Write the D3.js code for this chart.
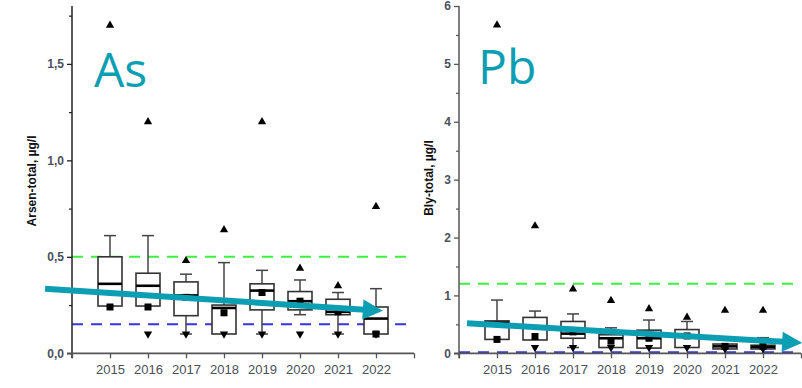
<!DOCTYPE html>
<html>
<head>
<meta charset="utf-8">
<script src="https://cdn.jsdelivr.net/npm/d3@7"></script>
<style>
  html, body { margin: 0; padding: 0; background: #fff; }
  svg { display: block; }
</style>
</head>
<body>
<svg id="chart" width="802" height="388"></svg>
<script>
// ---------- DATA ----------
const years = [2015, 2016, 2017, 2018, 2019, 2020, 2021, 2022];

// Arsen-total (µg/l)
const asWhiskerHigh = [0.61, 0.61, 0.41, 0.47, 0.43, 0.38, 0.315, 0.335];
const asQ3          = [0.50, 0.415, 0.37, 0.25, 0.36, 0.32, 0.28, 0.24];
const asMedian      = [0.36, 0.35, 0.30, 0.235, 0.325, 0.27, 0.215, 0.18];
const asQ1          = [0.245, 0.245, 0.195, 0.10, 0.225, 0.225, 0.20, 0.10];
const asWhiskerLow  = [0.245, 0.245, 0.10, 0.10, 0.10, 0.20, 0.10, 0.10];
const asMean        = [0.24, 0.24, 0.29, 0.21, 0.315, 0.27, 0.215, 0.10];
const asMax         = [1.70, 1.20, 0.48, 0.64, 1.20, 0.44, 0.35, 0.76];
const asMin         = [null, 0.10, 0.10, 0.10, 0.10, 0.10, 0.10, 0.10];
const asLimits      = [0.5, 0.15];          // green, blue
const asTrend       = [[-1.71, 0.334], [7.18, 0.22]]; // [category index, value]
const asTicks       = [0, 0.5, 1.0, 1.5];
const asMinorTicks  = [0.25, 0.75, 1.25, 1.75];

// Bly-total (µg/l)
const pbWhiskerHigh = [0.92, 0.73, 0.68, 0.44, 0.575, 0.55, 0.16, 0.27];
const pbQ3          = [0.56, 0.62, 0.55, 0.32, 0.40, 0.41, 0.16, 0.14];
const pbMedian      = [0.53, 0.45, 0.34, 0.26, 0.26, 0.30, 0.12, 0.11];
const pbQ1          = [0.24, 0.23, 0.26, 0.10, 0.09, 0.10, 0.075, 0.075];
const pbWhiskerLow  = [0.24, 0.23, 0.10, 0.10, 0.09, 0.10, 0.075, 0.075];
const pbMean        = [0.24, 0.29, 0.37, 0.21, 0.26, 0.30, 0.12, 0.12];
const pbMax         = [5.67, 2.20, 1.11, 0.91, 0.77, 0.62, 0.74, 0.74];
const pbMin         = [null, 0.10, 0.10, 0.10, 0.10, 0.10, 0.08, 0.08];
const pbLimits      = [1.2, 0.02];
const pbTrend       = [[-0.79, 0.52], [8.03, 0.18]];
const pbTicks       = [0, 1, 2, 3, 4, 5, 6];
const pbMinorTicks  = [0.5, 1.5, 2.5, 3.5, 4.5, 5.5];

// ---------- STYLE ----------
const TEAL = "#0c9eb2";
const GREEN = "#3ef03e";
const BLUE = "#3535e6";
const BOXC = "#333";
const LABC = "#4b505c";
const fmtComma = d => d3.format(".1f")(d).replace(".", ",");

const svg = d3.select("#chart");

const panels = [
  {
    left: 72, right: 414, top: 6, bottom: 353.3,
    domain: [0, 1.8], ticks: asTicks, minor: asMinorTicks, fmt: fmtComma,
    title: "Arsen-total, µg/l", titleX: 33, titleY: 181,
    label: "As", labelX: 94, labelY: 87,
    whiskerHigh: asWhiskerHigh, q3: asQ3, median: asMedian, q1: asQ1,
    whiskerLow: asWhiskerLow, mean: asMean, max: asMax, min: asMin,
    limits: asLimits, trend: asTrend, axisColor: "#222"
  },
  {
    left: 459, right: 801, top: 6, bottom: 353.3,
    domain: [0, 6], ticks: pbTicks, minor: pbMinorTicks, fmt: d3.format("d"),
    title: "Bly-total, µg/l", titleX: 430, titleY: 178,
    label: "Pb", labelX: 478, labelY: 84,
    whiskerHigh: pbWhiskerHigh, q3: pbQ3, median: pbMedian, q1: pbQ1,
    whiskerLow: pbWhiskerLow, mean: pbMean, max: pbMax, min: pbMin,
    limits: pbLimits, trend: pbTrend, axisColor: "#555"
  }
];

// partial teal heading letter cut by the top edge (as in the reference)
svg.append("text")
  .attr("x", 398).attr("y", -12)
  .attr("font-family", "Open Sans")
  .attr("font-size", 44)
  .attr("fill", TEAL)
  .text("g");

panels.forEach(p => {
  const g = svg.append("g");
  const x = d3.scaleLinear().domain([-1, years.length]).range([p.left, p.right]);
  const y = d3.scaleLinear().domain(p.domain).range([p.bottom, p.top]);
  const boxW = 24, capW = 12;

  // limit lines
  g.selectAll("line.limit").data(p.limits).join("line")
    .attr("x1", p.left).attr("x2", p.right)
    .attr("y1", d => y(d)).attr("y2", d => y(d))
    .attr("stroke", (d, i) => i === 0 ? GREEN : BLUE)
    .attr("stroke-width", 2)
    .attr("stroke-dasharray", "11,8");

  // y axis
  const yAxis = d3.axisLeft(y).tickValues(p.ticks).tickFormat(p.fmt).tickSize(5).tickPadding(3);
  const ya = g.append("g").attr("transform", `translate(${p.left},0)`).call(yAxis);
  ya.select(".domain").attr("stroke", p.axisColor).attr("stroke-width", 1.5)
    .attr("d", `M0,${p.bottom + 5}V${p.top}`);
  ya.selectAll(".tick line").attr("stroke", p.axisColor).attr("stroke-width", 1.3);
  ya.selectAll(".tick text")
    .attr("font-family", "Liberation Sans, Arial, sans-serif")
    .attr("font-size", 12).attr("font-weight", "bold").attr("fill", LABC);
  const yMinor = d3.axisLeft(y).tickValues(p.minor).tickFormat("").tickSize(3);
  const ym = g.append("g").attr("transform", `translate(${p.left},0)`).call(yMinor);
  ym.select(".domain").remove();
  ym.selectAll(".tick line").attr("stroke", p.axisColor).attr("stroke-width", 1.2);

  // x axis
  const xTickVals = d3.range(-1, years.length + 1);
  const xAxis = d3.axisBottom(x).tickValues(xTickVals)
    .tickFormat(i => (i >= 0 && i < years.length) ? years[i] : "")
    .tickSize(5).tickPadding(6);
  const xa = g.append("g").attr("transform", `translate(0,${p.bottom})`).call(xAxis);
  xa.select(".domain").attr("stroke", "#555").attr("stroke-width", 1.8)
    .attr("d", `M${p.left - 5},0H${p.right}`);
  xa.selectAll(".tick line").attr("stroke", "#555").attr("stroke-width", 1.3);
  xa.selectAll(".tick text")
    .attr("font-family", "Liberation Sans, Arial, sans-serif")
    .attr("font-size", 13).attr("fill", LABC);

  // axis title
  g.append("text")
    .attr("transform", `translate(${p.titleX},${p.titleY}) rotate(-90)`)
    .attr("text-anchor", "middle").attr("dominant-baseline", "middle")
    .attr("font-family", "Liberation Sans, Arial, sans-serif")
    .attr("font-size", 12).attr("font-weight", "bold").attr("fill", "#111")
    .text(p.title);

  const idx = d3.range(years.length);

  // whiskers
  const wg = g.append("g").attr("stroke", "#444").attr("stroke-width", 1.5);
  idx.forEach(i => {
    const cx = x(i);
    if (p.whiskerHigh[i] > p.q3[i]) {
      wg.append("line").attr("x1", cx).attr("x2", cx).attr("y1", y(p.q3[i])).attr("y2", y(p.whiskerHigh[i]));
      wg.append("line").attr("x1", cx - capW / 2).attr("x2", cx + capW / 2)
        .attr("y1", y(p.whiskerHigh[i])).attr("y2", y(p.whiskerHigh[i]));
    }
    if (p.whiskerLow[i] < p.q1[i]) {
      wg.append("line").attr("x1", cx).attr("x2", cx).attr("y1", y(p.q1[i])).attr("y2", y(p.whiskerLow[i]));
      wg.append("line").attr("x1", cx - capW / 2).attr("x2", cx + capW / 2)
        .attr("y1", y(p.whiskerLow[i])).attr("y2", y(p.whiskerLow[i]));
    }
  });

  // boxes
  g.selectAll("rect.box").data(idx).join("rect")
    .attr("x", i => x(i) - boxW / 2).attr("width", boxW)
    .attr("y", i => y(p.q3[i])).attr("height", i => Math.max(1, y(p.q1[i]) - y(p.q3[i])))
    .attr("fill", "#fff").attr("stroke", BOXC).attr("stroke-width", 1.6);

  // medians
  g.selectAll("line.med").data(idx).join("line")
    .attr("x1", i => x(i) - boxW / 2).attr("x2", i => x(i) + boxW / 2)
    .attr("y1", i => y(p.median[i])).attr("y2", i => y(p.median[i]))
    .attr("stroke", "#000").attr("stroke-width", 2.6);

  // mean squares
  g.selectAll("rect.mean").data(idx).join("rect")
    .attr("x", i => x(i) - 3.5).attr("y", i => y(p.mean[i]) - 3.5)
    .attr("width", 7).attr("height", 7).attr("fill", "#000");

  // max (up triangles)
  const tri = d3.symbol().type(d3.symbolTriangle).size(30);
  g.selectAll("path.max").data(idx).join("path")
    .attr("d", tri)
    .attr("transform", i => `translate(${x(i)},${y(p.max[i])})`)
    .attr("fill", "#000");

  // min (down triangles)
  g.selectAll("path.min").data(idx.filter(i => p.min[i] != null)).join("path")
    .attr("d", tri)
    .attr("transform", i => `translate(${x(i)},${y(p.min[i])}) rotate(180)`)
    .attr("fill", "#000");

  // trend arrow
  const [s, e] = p.trend;
  const x0 = x(s[0]), y0 = y(s[1]), x1 = x(e[0]), y1 = y(e[1]);
  const ang = Math.atan2(y1 - y0, x1 - x0);
  const headL = 20, headW = 10;
  const bx = x1 - headL * Math.cos(ang), by = y1 - headL * Math.sin(ang);
  g.append("line").attr("x1", x0).attr("y1", y0).attr("x2", bx + 2 * Math.cos(ang)).attr("y2", by + 2 * Math.sin(ang))
    .attr("stroke", TEAL).attr("stroke-width", 6);
  const nx = -Math.sin(ang), ny = Math.cos(ang);
  g.append("path")
    .attr("d", `M${x1},${y1}L${bx + nx * headW},${by + ny * headW}L${bx - nx * headW},${by - ny * headW}Z`)
    .attr("fill", TEAL);

  // element label
  g.append("text")
    .attr("x", p.labelX).attr("y", p.labelY)
    .attr("font-family", "Open Sans")
    .attr("font-size", 48)
    .attr("fill", TEAL)
    .text(p.label);
});
</script>
</body>
</html>
